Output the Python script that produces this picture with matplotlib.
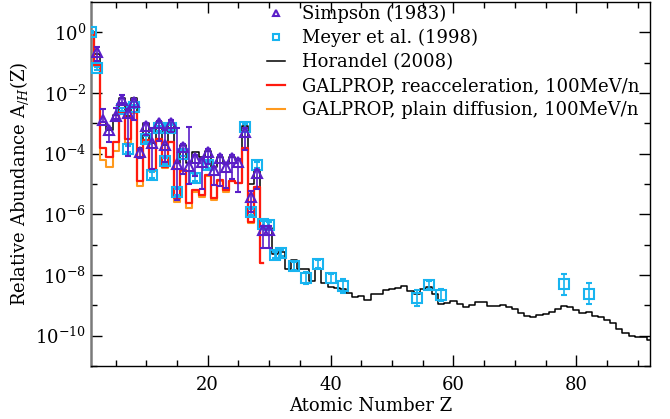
import matplotlib
matplotlib.use("Agg")
import matplotlib.pyplot as plt
from matplotlib.lines import Line2D
import numpy as np

plt.rcParams['font.family'] = ['DejaVu Serif']
plt.rcParams['mathtext.fontset'] = 'dejavuserif'

# ---- data (log10 of relative abundance) ----
# Horandel (2008), Z = 1..92
z_hor = np.arange(1, 93)
log_hor = [0.0, -0.7, -2.95, -3.22, -2.73, -2.15, -2.75, -2.15, -3.8, -3.0,
           -3.65, -2.95, -3.7, -2.98, -4.3, -3.73, -4.3, -3.95, -4.1, -3.9,
           -4.45, -4.1, -4.35, -4.1, -4.2, -3.1, -5.0, -4.55, -6.45, -6.45,
           -7.3, -7.23, -7.81, -7.51, -7.81, -7.81, -8.19, -7.81, -8.25, -8.39,
           -8.44, -8.47, -8.58, -8.72, -8.69, -8.82, -8.64, -8.61, -8.49, -8.46,
           -8.44, -8.36, -8.53, -8.63, -8.47, -8.41, -8.61, -8.96, -8.93, -8.85,
           -8.96, -9.04, -8.99, -8.90, -8.88, -9.01, -9.01, -8.99, -9.07, -9.13,
           -9.24, -9.34, -9.37, -9.32, -9.29, -9.23, -9.12, -9.02, -9.07, -9.15,
           -9.24, -9.21, -9.35, -9.40, -9.48, -9.59, -9.79, -9.92, -10.0, -10.03,
           -10.06, -10.14]

# GALPROP models, Z = 1..29
z_gal = np.arange(1, 30)
log_reacc = [0.0, -1.08, -3.82, -4.12, -3.6, -2.62, -3.52, -2.62, -4.9, -3.55,
             -4.55, -3.5, -4.45, -3.6, -5.47, -4.54, -5.62, -5.2, -5.36, -4.7,
             -5.47, -4.87, -5.2, -4.89, -4.96, -3.82, -6.24, -5.09, -7.6]
log_plain = [0.0, -1.12, -4.2, -4.45, -3.9, -2.65, -3.65, -2.65, -5.05, -3.58,
             -4.58, -3.52, -4.48, -3.62, -5.6, -4.56, -5.8, -5.26, -5.42, -4.72,
             -5.53, -4.9, -5.25, -4.91, -4.98, -3.84, -6.27, -5.11, -7.6]

# Simpson (1983)
z_simp = np.arange(2, 31)
log_simp = [-0.64, -2.9, -3.22, -2.76, -2.23, -2.67, -2.3, -3.94, -3.1, -3.66,
            -2.98, -3.71, -3.0, -4.34, -3.77, -4.41, -4.15, -4.26, -3.93, -4.54,
            -4.15, -4.43, -4.15, -4.26, -3.27, -5.42, -4.65, -6.5, -6.5]
simp_lo = [0.3, 0.05, 0.38, 0.1, 0.1, 1.4, 0.6, 0.2, 0.3, 0.86,
           0.6, 0.55, 0.3, 1.2, 0.9, 0.6, 0.6, 0.9, 0.4, 0.5,
           0.9, 0.7, 0.7, 1.0, 0.6, 0.5, 0.5, 0.6, 0.6]
simp_hi = [0.15, 0.37, 0.05, 0.25, 0.15, 0.15, 0.1, 0.1, 0.1, 0.5,
           0.05, 0.5, 0.1, 1.2, 0.1, 1.3, 0.1, 0.1, 0.1, 0.1,
           0.1, 0.1, 0.1, 0.1, 0.1, 0.2, 0.1, 0.1, 0.1]

# Meyer et al. (1998)
z_mey = [1, 2, 6, 7, 8, 10, 11, 12, 13, 14, 15, 16, 18, 20, 26, 27, 28, 29, 30,
         31, 32, 34, 36, 38, 40, 42, 54, 56, 58, 78, 82]
log_mey = [0.0, -1.19, -2.54, -3.86, -2.45, -3.53, -4.7, -3.17, -4.24, -3.15,
           -5.25, -4.0, -4.81, -4.37, -3.11, -5.91, -4.37, -6.32, -6.35,
           -7.33, -7.29, -7.69, -8.09, -7.64, -8.11, -8.35, -8.75, -8.33, -8.66,
           -8.31, -8.61]
mey_err = [0.03, 0.05, 0.05, 0.1, 0.05, 0.1, 0.1, 0.08, 0.1, 0.08,
           0.1, 0.08, 0.1, 0.1, 0.08, 0.1, 0.1, 0.1, 0.1,
           0.1, 0.1, 0.13, 0.2, 0.13, 0.15, 0.23, 0.27, 0.14, 0.2,
           0.35, 0.36]

SIMP_COL = '#5a1ec8'
MEY_COL = '#18b4f0'


def asym(logv, lo, hi):
    logv = np.asarray(logv)
    v = 10.0 ** logv
    return v, [v - 10.0 ** (logv - lo), 10.0 ** (logv + hi) - v]


fig = plt.figure(figsize=(6.7, 4.19), dpi=100)
ax = fig.add_axes([91 / 670, 53 / 419, 559 / 670, 364 / 419])

l_plain, = ax.plot(z_gal, 10.0 ** np.array(log_plain), drawstyle='steps-mid',
                   color='#ff9a1e', lw=1.5, zorder=2)
l_hor, = ax.plot(z_hor, 10.0 ** np.array(log_hor), drawstyle='steps-mid',
                 color='black', lw=1.1, zorder=3)
l_reacc, = ax.plot(z_gal, 10.0 ** np.array(log_reacc), drawstyle='steps-mid',
                   color='#ff1a0e', lw=1.6, zorder=4)

v, e = asym(log_simp, np.array(simp_lo), np.array(simp_hi))
ax.errorbar(z_simp, v, yerr=e, fmt='^', mfc='none', mec=SIMP_COL, ecolor=SIMP_COL,
            ms=6.5, mew=1.5, elinewidth=1.2, capsize=2.5, zorder=6)
v, e = asym(log_mey, np.array(mey_err), np.array(mey_err))
ax.errorbar(z_mey, v, yerr=e, fmt='s', mfc='none', mec=MEY_COL, ecolor=MEY_COL,
            ms=6.5, mew=1.5, elinewidth=1.2, capsize=2.5, zorder=5)

ax.set_yscale('log')
ax.set_xlim(1, 92)
ax.set_ylim(1e-11, 10)

ax.set_xticks([20, 40, 60, 80])
ax.set_xticks(np.arange(5, 92, 5), minor=True)
ax.set_yticks([10.0 ** k for k in range(0, -11, -2)])
ax.set_yticklabels([r'$10^{%d}$' % k for k in range(0, -11, -2)])
ax.set_yticks([10.0 ** k for k in range(-1, -12, -2)], minor=True)
ax.yaxis.set_minor_formatter(plt.NullFormatter())
ax.tick_params(which='both', direction='in', top=True, right=True, labelsize=13)
ax.tick_params(which='major', length=8, width=1)
ax.tick_params(which='minor', length=4, width=1)
ax.tick_params(axis='x', pad=7)

for s in ax.spines.values():
    s.set_linewidth(1.0)
ax.spines['left'].set_color('#7a7a7a')
ax.spines['left'].set_linewidth(1.8)

ax.set_xlabel('Atomic Number Z', fontsize=13, labelpad=2)
ax.set_ylabel(r'Relative Abundance A$_{/H}$(Z)', fontsize=13, labelpad=3)

handles = [Line2D([], [], ls='none', marker='^', mfc='none', mec=SIMP_COL, ms=5, mew=1.5),
           Line2D([], [], ls='none', marker='s', mfc='none', mec=MEY_COL, ms=5, mew=1.5),
           l_hor, l_reacc, l_plain]
labels = ['Simpson (1983)', 'Meyer et al. (1998)', 'Horandel (2008)',
          'GALPROP, reacceleration, 100MeV/n', 'GALPROP, plain diffusion, 100MeV/n']
ax.legend(handles, labels, loc='upper right', bbox_to_anchor=(1.0, 1.022), frameon=False,
          fontsize=13, handlelength=1.0, handletextpad=0.9, labelspacing=0.33,
          borderaxespad=0.2)

fig.savefig('out.png', dpi=100)
